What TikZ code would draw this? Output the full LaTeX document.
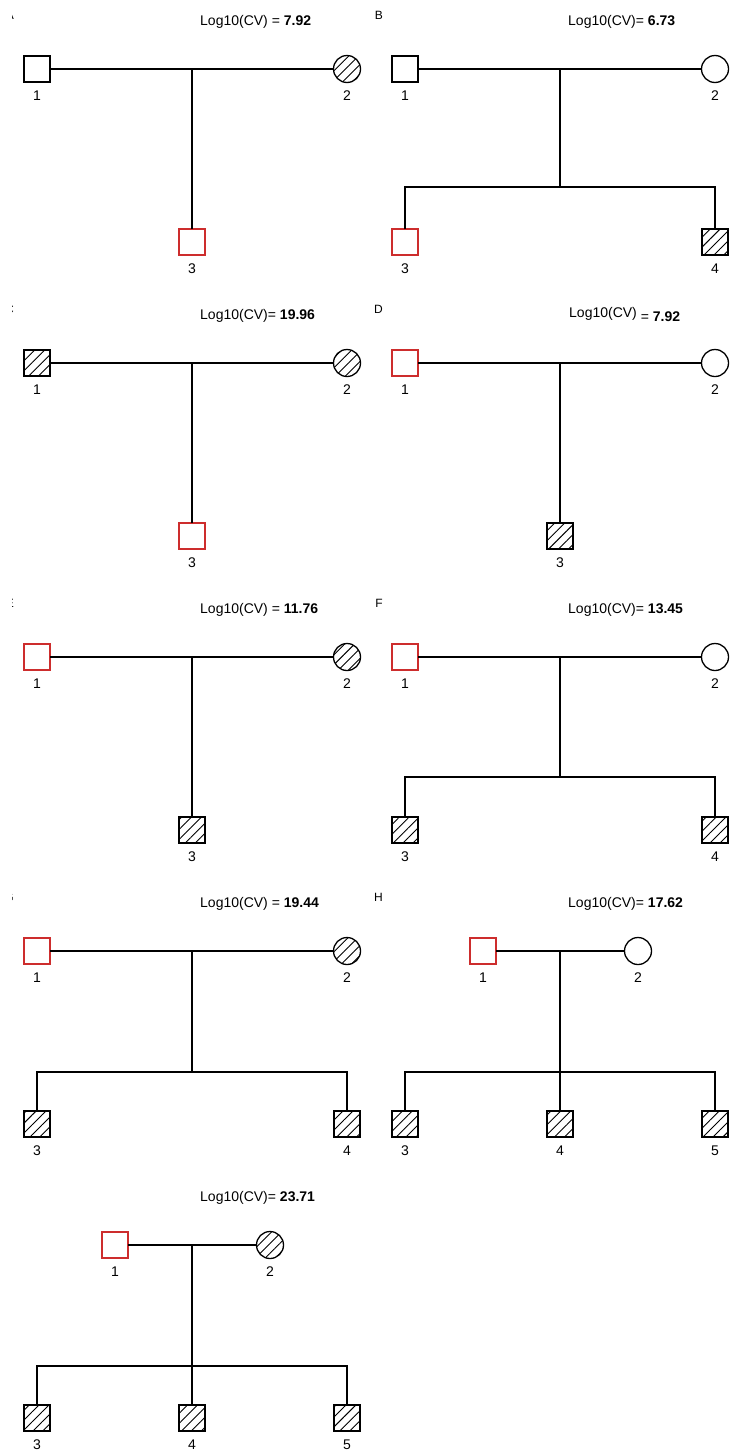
\documentclass[tikz,border=0pt]{standalone}
\usepackage{fontspec}
\setmainfont{Liberation Sans}
\usetikzlibrary{patterns.meta}
\definecolor{pedred}{RGB}{205,45,45}
\begin{document}
\begin{tikzpicture}[x=1pt,y=-1pt,
  ind/.style={draw=black,line width=1.3pt,minimum size=26pt,inner sep=0pt,outer sep=0pt},
  male/.style={ind,rectangle},
  female/.style={ind,circle,minimum size=27pt},
  aff/.style={pattern={Lines[angle=45,distance=7pt,line width=0.9pt]}},
  prob/.style={draw=pedred},
  lbl/.style={font=\fontsize{14}{14}\selectfont,anchor=base,inner sep=0pt},
  cv/.style={font=\fontsize{14}{14}\selectfont,anchor=base west,inner sep=0pt},
  panlet/.style={font=\fontsize{12}{12}\selectfont,anchor=base east,inner sep=0pt},
  ln/.style={line width=1.2pt}]
\useasboundingbox (0,0) rectangle (731,1454);

% panel letters (left column cropped by the image edge)
\begin{scope}
  \clip (12.5,0) rectangle (40,1454);
  \node[panlet] (la) at (14,19) {A};
  \node[panlet] (lc) at (14,313) {C};
  \node[panlet] (le) at (14,607) {E};
  \node[panlet] (lg) at (14,901) {G};
\end{scope}
\node[panlet] (lb) at (383,19) {B};
\node[panlet] (ld) at (383,313) {D};
\node[panlet] (lf) at (383,607) {F};
\node[panlet] (lh) at (383,901) {H};

% CV texts
\node[cv] (cva) at (200,25) {Log10(CV) = \textbf{7.92}};
\node[cv] (cvb) at (568,25) {Log10(CV)= \textbf{6.73}};
\node[cv] (cvc) at (200,319) {Log10(CV)= \textbf{19.96}};
\node[cv] (cvd) at (569,321) {\raisebox{4pt}{Log10(CV)} = \textbf{7.92}};
\node[cv] (cve) at (200,613) {Log10(CV) = \textbf{11.76}};
\node[cv] (cvf) at (568,613) {Log10(CV)= \textbf{13.45}};
\node[cv] (cvg) at (200,907) {Log10(CV) = \textbf{19.44}};
\node[cv] (cvh) at (568,907) {Log10(CV)= \textbf{17.62}};
\node[cv] (cvi) at (200,1201) {Log10(CV)= \textbf{23.71}};

% ---------- Panel A ----------
\node[male] (a1) at (37,69) {};
\node[female,aff] (a2) at (347,69) {};
\node[male,prob] (a3) at (192,242) {};
\coordinate (am) at (192,69);
\draw[ln] (a1) -- (a2);
\draw[ln] (am) -- (a3);
\node[lbl] (a1l) at (37,100) {1};
\node[lbl] (a2l) at (347,100) {2};
\node[lbl] (a3l) at (192,273) {3};

% ---------- Panel B ----------
\node[male] (b1) at (405,69) {};
\node[female] (b2) at (715,69) {};
\node[male,prob] (b3) at (405,242) {};
\node[male,aff] (b4) at (715,242) {};
\coordinate (bm) at (560,69);
\coordinate (bs) at (560,187);
\draw[ln] (b1) -- (b2);
\draw[ln] (bm) -- (bs);
\draw[ln] (b3) |- (bs) -| (b4);
\node[lbl] (b1l) at (405,100) {1};
\node[lbl] (b2l) at (715,100) {2};
\node[lbl] (b3l) at (405,273) {3};
\node[lbl] (b4l) at (715,273) {4};

% ---------- Panel C ----------
\node[male,aff] (c1) at (37,363) {};
\node[female,aff] (c2) at (347,363) {};
\node[male,prob] (c3) at (192,536) {};
\coordinate (cm) at (192,363);
\draw[ln] (c1) -- (c2);
\draw[ln] (cm) -- (c3);
\node[lbl] (c1l) at (37,394) {1};
\node[lbl] (c2l) at (347,394) {2};
\node[lbl] (c3l) at (192,567) {3};

% ---------- Panel D ----------
\node[male,prob] (d1) at (405,363) {};
\node[female] (d2) at (715,363) {};
\node[male,aff] (d3) at (560,536) {};
\coordinate (dm) at (560,363);
\draw[ln] (d1) -- (d2);
\draw[ln] (dm) -- (d3);
\node[lbl] (d1l) at (405,394) {1};
\node[lbl] (d2l) at (715,394) {2};
\node[lbl] (d3l) at (560,567) {3};

% ---------- Panel E ----------
\node[male,prob] (e1) at (37,657) {};
\node[female,aff] (e2) at (347,657) {};
\node[male,aff] (e3) at (192,830) {};
\coordinate (em) at (192,657);
\draw[ln] (e1) -- (e2);
\draw[ln] (em) -- (e3);
\node[lbl] (e1l) at (37,688) {1};
\node[lbl] (e2l) at (347,688) {2};
\node[lbl] (e3l) at (192,861) {3};

% ---------- Panel F ----------
\node[male,prob] (f1) at (405,657) {};
\node[female] (f2) at (715,657) {};
\node[male,aff] (f3) at (405,830) {};
\node[male,aff] (f4) at (715,830) {};
\coordinate (fm) at (560,657);
\coordinate (fs) at (560,777);
\draw[ln] (f1) -- (f2);
\draw[ln] (fm) -- (fs);
\draw[ln] (f3) |- (fs) -| (f4);
\node[lbl] (f1l) at (405,688) {1};
\node[lbl] (f2l) at (715,688) {2};
\node[lbl] (f3l) at (405,861) {3};
\node[lbl] (f4l) at (715,861) {4};

% ---------- Panel G ----------
\node[male,prob] (g1) at (37,951) {};
\node[female,aff] (g2) at (347,951) {};
\node[male,aff] (g3) at (37,1124) {};
\node[male,aff] (g4) at (347,1124) {};
\coordinate (gm) at (192,951);
\coordinate (gs) at (192,1072);
\draw[ln] (g1) -- (g2);
\draw[ln] (gm) -- (gs);
\draw[ln] (g3) |- (gs) -| (g4);
\node[lbl] (g1l) at (37,982) {1};
\node[lbl] (g2l) at (347,982) {2};
\node[lbl] (g3l) at (37,1155) {3};
\node[lbl] (g4l) at (347,1155) {4};

% ---------- Panel H ----------
\node[male,prob] (h1) at (483,951) {};
\node[female] (h2) at (638,951) {};
\node[male,aff] (h3) at (405,1124) {};
\node[male,aff] (h4) at (560,1124) {};
\node[male,aff] (h5) at (715,1124) {};
\coordinate (hm) at (560,951);
\coordinate (hs) at (560,1072);
\draw[ln] (h1) -- (h2);
\draw[ln] (hm) -- (h4);
\draw[ln] (h3) |- (hs) -| (h5);
\node[lbl] (h1l) at (483,982) {1};
\node[lbl] (h2l) at (638,982) {2};
\node[lbl] (h3l) at (405,1155) {3};
\node[lbl] (h4l) at (560,1155) {4};
\node[lbl] (h5l) at (715,1155) {5};

% ---------- Panel I ----------
\node[male,prob] (i1) at (115,1245) {};
\node[female,aff] (i2) at (270,1245) {};
\node[male,aff] (i3) at (37,1418) {};
\node[male,aff] (i4) at (192,1418) {};
\node[male,aff] (i5) at (347,1418) {};
\coordinate (im) at (192,1245);
\coordinate (is) at (192,1366);
\draw[ln] (i1) -- (i2);
\draw[ln] (im) -- (i4);
\draw[ln] (i3) |- (is) -| (i5);
\node[lbl] (i1l) at (115,1276) {1};
\node[lbl] (i2l) at (270,1276) {2};
\node[lbl] (i3l) at (37,1449) {3};
\node[lbl] (i4l) at (192,1449) {4};
\node[lbl] (i5l) at (347,1449) {5};
\end{tikzpicture}
\end{document}
